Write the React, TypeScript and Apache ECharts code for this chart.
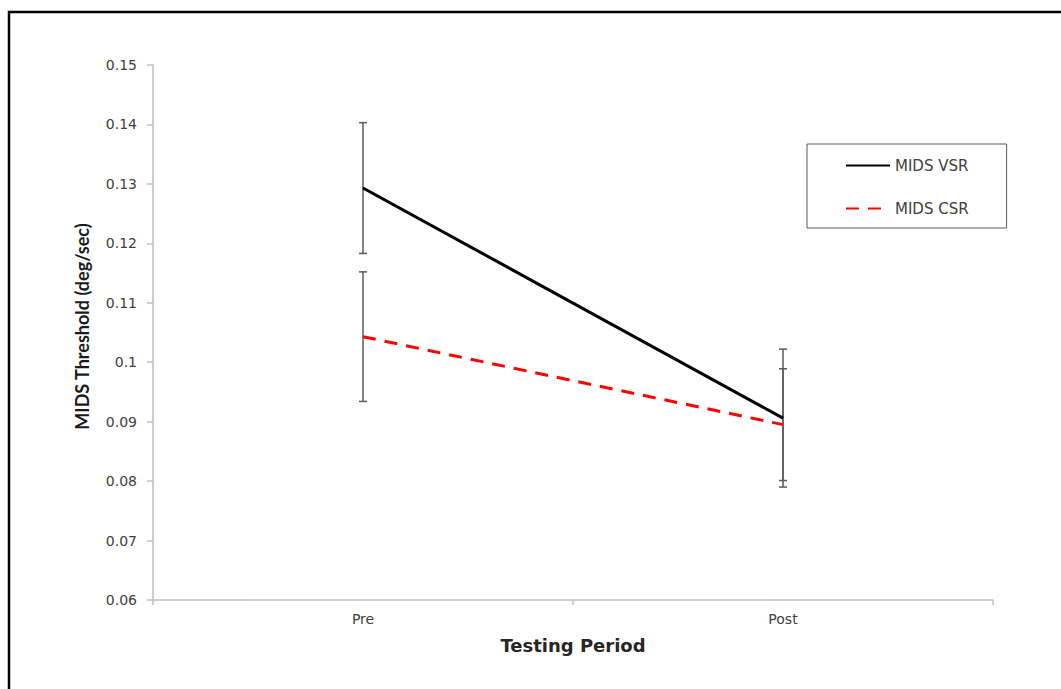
import React, { useEffect, useRef } from 'react';
import * as echarts from 'echarts';

const categories = ['Pre', 'Post'];
const vsrMeans = [0.1293, 0.0906];
const vsrErrors = [0.011, 0.0116];
const csrMeans = [0.1043, 0.0895];
const csrErrors = [0.0109, 0.0094];
const yMin = 0.06;
const yMax = 0.15;
const yStep = 0.01;

const FONT = 'DejaVu Sans';

export default function App() {
  const ref = useRef<HTMLDivElement>(null);
  useEffect(() => {
    const chart = echarts.init(ref.current!, null, { renderer: 'svg' });
    const errData = (means: number[], errs: number[]) =>
      means.map((m, i) => [i, m - errs[i], m + errs[i]]);
    const renderErr = (params: any, api: any) => {
      const x = api.value(0);
      const lo = api.coord([x, api.value(1)]);
      const hi = api.coord([x, api.value(2)]);
      const w = 4;
      const style = { stroke: '#5a5a5a', lineWidth: 1.5 };
      return {
        type: 'group',
        children: [
          { type: 'line', shape: { x1: lo[0], y1: lo[1], x2: hi[0], y2: hi[1] }, style },
          { type: 'line', shape: { x1: lo[0] - w, y1: lo[1], x2: lo[0] + w, y2: lo[1] }, style },
          { type: 'line', shape: { x1: hi[0] - w, y1: hi[1], x2: hi[0] + w, y2: hi[1] }, style },
        ],
      };
    };
    chart.setOption({
      animation: false,
      backgroundColor: '#ffffff',
      grid: { left: 153, right: 68, top: 65, bottom: 89, containLabel: false },
      graphic: [
        {
          type: 'polyline',
          shape: { points: [[9, 689], [9, 12], [1061, 12]] },
          style: { stroke: '#000000', lineWidth: 2.5, fill: null },
          silent: true,
        },
      ],
      legend: {
        data: ['MIDS VSR', 'MIDS CSR'],
        orient: 'vertical',
        left: 807,
        top: 144,
        itemWidth: 44,
        itemHeight: 14,
        itemGap: 28,
        padding: [14, 38, 12, 38],
        borderColor: '#595959',
        borderWidth: 1,
        backgroundColor: '#ffffff',
        itemStyle: { opacity: 0 },
        textStyle: { fontSize: 15, color: '#404040', fontFamily: FONT },
      },
      xAxis: {
        type: 'category',
        data: categories,
        boundaryGap: true,
        axisLine: { lineStyle: { color: '#bfbfbf', width: 1.5 } },
        axisTick: { show: true, length: 5, lineStyle: { color: '#bfbfbf', width: 1.5 } },
        axisLabel: { margin: 12, fontSize: 14, color: '#404040', fontFamily: FONT },
        splitLine: { show: false },
        name: 'Testing Period',
        nameLocation: 'middle',
        nameGap: 36,
        nameTextStyle: { fontSize: 18, fontWeight: 'bold', color: '#262626', fontFamily: FONT },
      },
      yAxis: {
        type: 'value',
        min: yMin,
        max: yMax,
        interval: yStep,
        axisLine: { show: true, lineStyle: { color: '#bfbfbf', width: 1.5 } },
        axisTick: { show: true, length: 6, lineStyle: { color: '#bfbfbf', width: 1.5 } },
        axisLabel: {
          margin: 16,
          fontSize: 14,
          color: '#404040',
          fontFamily: FONT,
          formatter: (v: number) => String(+v.toFixed(2)),
        },
        splitLine: { show: false },
        name: 'MIDS Threshold (deg/sec)',
        nameLocation: 'middle',
        nameGap: 62,
        nameTextStyle: { fontSize: 18, fontWeight: 'bold', color: '#1a1a1a', fontFamily: 'Lato', padding: [0, 0, 0, 12] },
      },
      series: [
        {
          name: 'VSR error',
          type: 'custom',
          renderItem: renderErr,
          data: errData(vsrMeans, vsrErrors),
          encode: { x: 0, y: [1, 2] },
          z: 1,
          silent: true,
        },
        {
          name: 'CSR error',
          type: 'custom',
          renderItem: renderErr,
          data: errData(csrMeans, csrErrors),
          encode: { x: 0, y: [1, 2] },
          z: 1,
          silent: true,
        },
        {
          name: 'MIDS VSR',
          type: 'line',
          data: vsrMeans,
          symbol: 'none',
          color: '#000000',
          lineStyle: { color: '#000000', width: 3 },
          z: 3,
        },
        {
          name: 'MIDS CSR',
          type: 'line',
          data: csrMeans,
          symbol: 'none',
          color: '#ff0000',
          lineStyle: { color: '#ff0000', width: 3, type: [13, 9] },
          z: 3,
        },
      ],
    });
    return () => chart.dispose();
  }, []);
  return (
    <div
      ref={ref}
      style={{ position: 'fixed', left: 0, top: 0, width: 1061, height: 689, background: '#fff' }}
    />
  );
}
